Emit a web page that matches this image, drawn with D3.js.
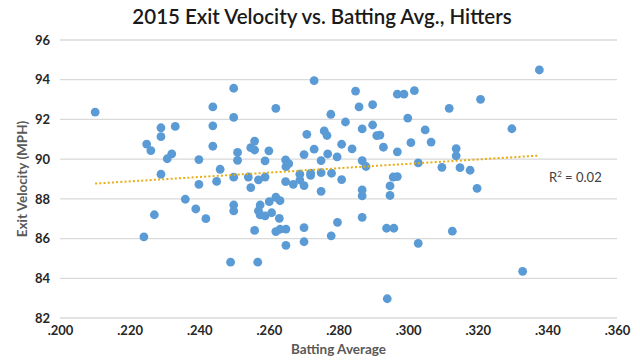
<!DOCTYPE html>
<html>
<head>
<meta charset="utf-8">
<script src="https://cdn.jsdelivr.net/npm/d3@7"></script>
<style>
  html, body { margin: 0; padding: 0; background: #fff; }
  svg { display: block; }
</style>
</head>
<body>
<svg id="chart" width="640" height="360"></svg>
<script>
const title = "2015 Exit Velocity vs. Batting Avg., Hitters";
const xTicks = [0.200, 0.220, 0.240, 0.260, 0.280, 0.300, 0.320, 0.340, 0.360];
const yTicks = [82, 84, 86, 88, 90, 92, 94, 96];

const battingAvg = [
  .2101, .2249, .2261, .2290, .2290, .2331, .2308, .2321, .2290, .2399,
  .2439, .2439, .2439, .2460, .2499, .2499, .2510, .2510, .2548, .2559,
  .2559, .2541, .2499, .2570, .2450, .2399, .2548, .2360, .2390, .2271,
  .2419, .2499, .2499, .2241, .2559, .2490, .2568, .2575, .2570, .2575,
  .2589, .2601, .2608, .2620, .2632, .2630, .2620, .2632, .2649, .2649,
  .2701, .2701, .2779, .2797, .2868, .2938, .2959, .3029, .2940, .2730,
  .2620, .2849, .2859, .2898, .2969, .2988, .3018, .2999, .2778, .2820,
  .2759, .2767, .2709, .2868, .2898, .2910, .2919, .2929, .2969, .3008,
  .3049, .3066, .2600, .2589, .2648, .2657, .2649, .2701, .2730, .2750,
  .2769, .2809, .2839, .2796, .2868, .2879, .3029, .2689, .2720, .2720,
  .2750, .2780, .2809, .2957, .2969, .2589, .2648, .2670, .2689, .2701,
  .2750, .2868, .2868, .2948, .2948, .3377, .3208, .3118, .3298, .3138,
  .3138, .3097, .3149, .3178, .3198, .3127, .3329
];
const exitVelocity = [
  92.37, 90.76, 90.43, 91.58, 91.13, 91.65, 90.02, 90.27, 89.24, 89.98,
  92.63, 91.68, 90.65, 89.49, 93.57, 92.10, 90.34, 89.94, 90.58, 90.46,
  90.91, 89.10, 89.09, 88.96, 88.88, 88.73, 88.57, 87.98, 87.49, 87.20,
  87.00, 87.69, 87.39, 86.09, 86.41, 84.81, 84.81, 87.69, 87.40, 87.19,
  87.14, 87.86, 87.30, 88.08, 87.91, 87.02, 86.35, 86.47, 86.48, 85.66,
  86.55, 85.84, 86.14, 86.82, 87.07, 86.52, 86.52, 85.76, 82.97, 93.95,
  92.56, 93.43, 92.63, 92.74, 93.27, 93.27, 93.45, 92.07, 92.26, 91.87,
  91.42, 91.19, 91.25, 91.52, 91.72, 91.18, 91.21, 90.60, 90.37, 90.83,
  91.47, 90.86, 90.42, 89.91, 89.96, 89.77, 89.62, 90.23, 90.50, 89.93,
  90.26, 90.75, 90.52, 90.11, 89.93, 89.63, 89.81, 89.24, 89.29, 89.18,
  89.32, 89.29, 88.97, 89.10, 89.12, 89.10, 88.87, 88.73, 88.95, 88.67,
  88.38, 88.45, 88.15, 88.65, 88.17, 94.49, 93.01, 92.56, 91.53, 90.53,
  90.17, 89.59, 89.57, 89.44, 88.53, 86.37, 84.35
];
// linear trendline endpoints (as drawn in the reference)
const trendX = [0.2101, 0.3377];
const trendY = [88.77, 90.18];
const rSquared = "0.02";

const svg = d3.select("#chart");
const margin = { left: 60, right: 23, top: 40, bottom: 42 };
const W = 640, H = 360;

const x = d3.scaleLinear().domain([0.2, 0.36]).range([margin.left, W - margin.right]);
const y = d3.scaleLinear().domain([82, 96]).range([H - margin.bottom, margin.top]);

// gridlines
svg.append("g")
  .selectAll("line")
  .data(yTicks)
  .join("line")
  .attr("x1", x(0.2)).attr("x2", x(0.36))
  .attr("y1", d => y(d)).attr("y2", d => y(d))
  .attr("stroke", "#d9d9d9").attr("stroke-width", 1.3);

// y axis labels
const yAxis = d3.axisLeft(y).tickValues(yTicks).tickSize(0).tickPadding(10).tickFormat(d3.format("d"));
const gy = svg.append("g").attr("transform", `translate(${margin.left},0)`).call(yAxis);
gy.select(".domain").remove();
gy.selectAll("text")
  .attr("font-family", "Lato, 'Open Sans', sans-serif")
  .attr("font-size", 13).attr("font-weight", 700).attr("fill", "#262626");

// x axis labels
const xAxis = d3.axisBottom(x).tickValues(xTicks).tickSize(0).tickPadding(8)
  .tickFormat(d => d3.format(".3f")(d).replace(/^0/, ""));
const gx = svg.append("g").attr("transform", `translate(0,${y(82)})`).call(xAxis);
gx.select(".domain").remove();
gx.selectAll("text")
  .attr("font-family", "Lato, 'Open Sans', sans-serif")
  .attr("font-size", 13).attr("font-weight", 700).attr("fill", "#262626");

// points
const pts = battingAvg.map((b, i) => ({ b, e: exitVelocity[i] }));
svg.append("g")
  .selectAll("circle")
  .data(pts)
  .join("circle")
  .attr("cx", d => x(d.b))
  .attr("cy", d => y(d.e))
  .attr("r", 4.4)
  .attr("fill", "#5b9bd5");

// trendline
svg.append("line")
  .attr("x1", x(trendX[0])).attr("y1", y(trendY[0]))
  .attr("x2", x(trendX[1])).attr("y2", y(trendY[1]))
  .attr("stroke", "#e6ad14").attr("stroke-width", 2)
  .attr("stroke-dasharray", "2,2.2");

// R² label
const rt = svg.append("text")
  .attr("x", 549).attr("y", 182)
  .attr("font-family", "Lato, 'Open Sans', sans-serif")
  .attr("font-size", 13).attr("fill", "#404040");
rt.append("tspan").text("R");
rt.append("tspan").attr("font-size", 8).attr("dy", -5).text("2");
rt.append("tspan").attr("dy", 5).text(" = " + rSquared);

// title
svg.append("text")
  .attr("x", 322).attr("y", 24)
  .attr("text-anchor", "middle")
  .attr("font-family", "Lato, 'Open Sans', sans-serif")
  .attr("font-size", 20.5).attr("font-weight", 600).attr("fill", "#1a1a1a")
  .text(title);

// axis titles
svg.append("text")
  .attr("x", x(0.28)).attr("y", 354)
  .attr("text-anchor", "middle")
  .attr("font-family", "Lato, 'Open Sans', sans-serif")
  .attr("font-size", 13.5).attr("font-weight", 700).attr("fill", "#595959")
  .text("Batting Average");

svg.append("text")
  .attr("transform", `translate(27,${(y(96) + y(82)) / 2}) rotate(-90)`)
  .attr("text-anchor", "middle")
  .attr("font-family", "Lato, 'Open Sans', sans-serif")
  .attr("font-size", 13.5).attr("font-weight", 700).attr("fill", "#595959")
  .text("Exit Velocity (MPH)");
</script>
</body>
</html>
